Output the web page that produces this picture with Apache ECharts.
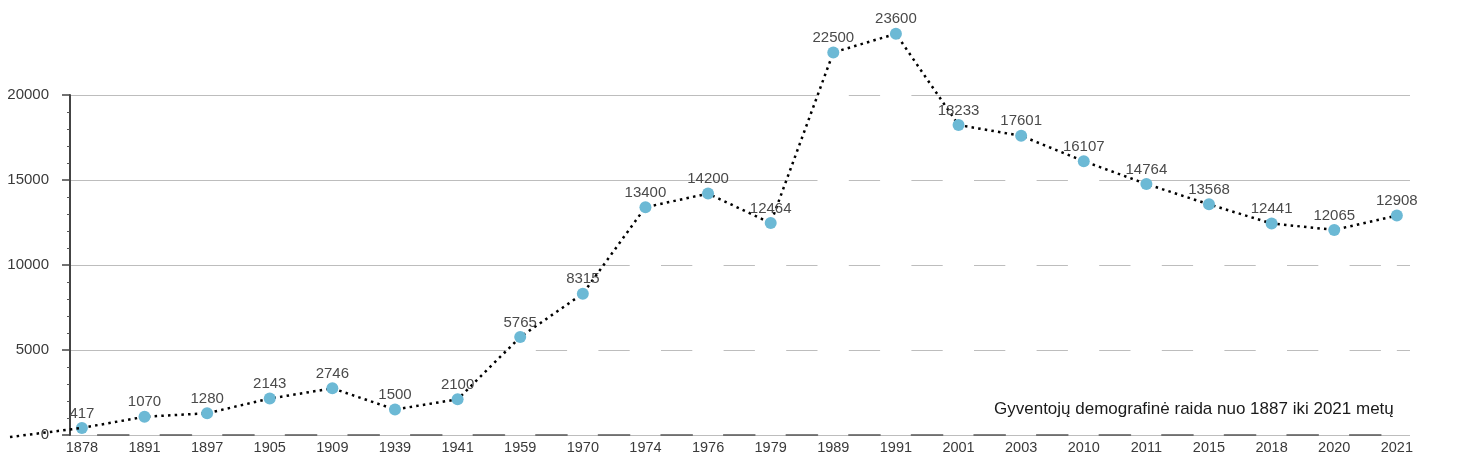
<!DOCTYPE html>
<html>
<head>
<meta charset="utf-8">
<script src="https://cdn.jsdelivr.net/npm/echarts@6/dist/echarts.min.js"></script>
<style>
html,body{margin:0;padding:0;background:#fff;}
#chart{width:1477px;height:463px;}
</style>
</head>
<body>
<div id="chart"></div>
<script>
// Data
var years = ['1878','1891','1897','1905','1909','1939','1941','1959','1970','1974','1976','1979','1989','1991','2001','2003','2010','2011','2015','2018','2020','2021'];
var population = [417,1070,1280,2143,2746,1500,2100,5765,8315,13400,14200,12464,22500,23600,18233,17601,16107,14764,13568,12441,12065,12908];
// short dotted segment entering from the left edge of the picture
var leadIn = [[-1.15,-120],[0,417]];
var titleText = 'Gyventojų demografinė raida nuo 1887 iki 2021 metų';

var idx = years.map(function(_, i){ return i; });
var pts = population.map(function(v, i){ return [i, v]; });

var font = '"Liberation Sans", Arial, Helvetica, sans-serif';
var dash = [31.3, 31.3];
var dashOff = 35;
var dotted = [2.5, 4.2];

var chart = echarts.init(document.getElementById('chart'));
chart.setOption({
  animation: false,
  backgroundColor: '#fff',
  title: {
    text: titleText,
    left: 989, top: 396,
    textStyle: {fontSize: 17, fontWeight: 'normal', color: '#1a1a1a', fontFamily: font}
  },
  grid: [
    {left: 70, right: 67, top: 95, bottom: 28, containLabel: false},
    {left: 10, right: 1395, top: 95, bottom: 28, containLabel: false}
  ],
  xAxis: [{
    type: 'value',
    gridIndex: 0,
    min: -0.19, max: 21.21,
    z: 4,
    axisLine: {show: true, onZero: false, lineStyle: {color: '#555', width: 1.5, type: dash, dashOffset: dashOff}},
    axisTick: {show: false},
    splitLine: {show: false},
    axisLabel: {
      customValues: idx,
      margin: 5,
      color: '#3a3a3a', fontSize: 14.5, fontFamily: font,
      formatter: function(v){ return years[Math.round(v)]; }
    }
  }, {
    type: 'value',
    gridIndex: 1,
    min: -1.15, max: 0,
    show: false
  }],
  yAxis: [{
    type: 'value',
    gridIndex: 0,
    min: 0, max: 20000, interval: 5000,
    z: 0,
    axisLine: {show: true, onZero: false, lineStyle: {color: '#444', width: 2}},
    axisTick: {show: true, length: 8, lineStyle: {color: '#444', width: 1.5}},
    minorTick: {show: true, splitNumber: 5, length: 3, lineStyle: {color: '#555', width: 1}},
    splitLine: {show: true, lineStyle: {color: '#bdbdbd', width: 1.2}},
    axisLabel: {margin: 21, color: '#3a3a3a', fontSize: 15, fontFamily: font,
      formatter: function(v){ return String(v); }}
  }, {
    type: 'value',
    gridIndex: 0,
    min: 0, max: 20000, interval: 5000,
    position: 'left',
    z: 3,
    axisLine: {show: false, onZero: false},
    axisTick: {show: false},
    axisLabel: {show: false},
    splitLine: {show: true, lineStyle: {color: '#bdbdbd', width: 1.2, type: dash, dashOffset: dashOff}}
  }, {
    type: 'value',
    gridIndex: 1,
    min: 0, max: 20000,
    show: false
  }],
  series: [{
    // white fill under the curve (hides the solid grid, dashed grid shows on top)
    type: 'line',
    data: pts,
    z: 1,
    silent: true,
    showSymbol: false,
    lineStyle: {width: 0, opacity: 0},
    areaStyle: {color: '#ffffff', opacity: 1},
    clip: true
  }, {
    type: 'line',
    xAxisIndex: 1,
    yAxisIndex: 2,
    data: leadIn,
    z: 7,
    showSymbol: false,
    clip: false,
    lineStyle: {color: '#000', width: 2.5, type: dotted}
  }, {
    type: 'line',
    data: pts,
    z: 6,
    clip: false,
    symbol: 'circle',
    symbolSize: 12,
    itemStyle: {color: '#6cb9d5'},
    lineStyle: {color: '#000', width: 2.5, type: dotted},
    label: {show: true, position: 'top', distance: 1, color: '#4a4a4a', fontSize: 15, fontFamily: font,
      formatter: function(p){ return String(p.value[1]); }}
  }]
});
</script>
</body>
</html>
